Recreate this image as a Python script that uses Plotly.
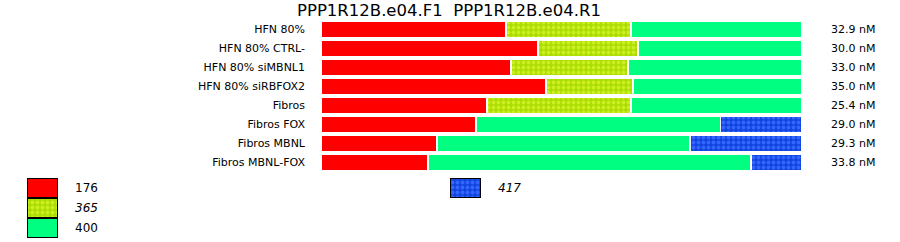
import plotly.graph_objects as go

categories = ["HFN 80%", "HFN 80% CTRL-", "HFN 80% siMBNL1", "HFN 80% siRBFOX2",
              "Fibros", "Fibros FOX", "Fibros MBNL", "Fibros MBNL-FOX"]
iso_176 = [38.5, 45.1, 39.5, 46.8, 34.5, 32.2, 24.1, 22.2]
iso_365 = [26.0, 20.8, 24.3, 18.1, 29.9, 0, 0, 0]
iso_400 = [35.5, 34.1, 36.2, 35.1, 35.6, 50.9, 52.6, 67.2]
iso_417 = [0, 0, 0, 0, 0, 16.8, 23.3, 10.6]
concentrations = ["32.9 nM", "30.0 nM", "33.0 nM", "35.0 nM",
                  "25.4 nM", "29.0 nM", "29.3 nM", "33.8 nM"]
series_names = ["176", "365", "400", "417"]
title_text = "PPP1R12B.e04.F1  PPP1R12B.e04.R1"

FONT = "DejaVu Sans, Verdana, sans-serif"
W, H = 900, 242

styles = {
    "176": dict(color="#FF0000"),
    "365": dict(color="#AADD00", pattern=dict(shape=".", fgcolor="#CCEE22", bgcolor="#AADD00",
                                              size=5, solidity=0.45, fillmode="replace")),
    "400": dict(color="#00FF80"),
    "417": dict(color="#1144DD", pattern=dict(shape=".", fgcolor="#3366FF", bgcolor="#1144DD",
                                              size=5, solidity=0.45, fillmode="replace")),
}

fig = go.Figure()
for name, vals in zip(series_names, [iso_176, iso_365, iso_400, iso_417]):
    st = styles[name]
    marker = dict(color=st["color"], line=dict(color="white", width=1.5))
    if "pattern" in st:
        marker["pattern"] = st["pattern"]
    fig.add_trace(go.Bar(y=categories, x=vals, orientation="h", name=name,
                         marker=marker, showlegend=False, hoverinfo="skip",
                         xaxis="x", yaxis="y"))

# Legend swatches on an auxiliary pixel-space axis
leg_pos = {"176": (27, 0), "365": (27, 1), "400": (27, 2), "417": (450, 0)}
for name in series_names:
    x0, row = leg_pos[name]
    st = styles[name]
    marker = dict(color=st["color"], line=dict(color="black", width=1))
    if "pattern" in st:
        marker["pattern"] = st["pattern"]
    yc = 187.5 + row * 20
    fig.add_trace(go.Bar(x=[30], base=[x0], y=[yc], width=[19], orientation="h",
                         marker=marker, showlegend=False, hoverinfo="skip",
                         xaxis="x2", yaxis="y2"))
    label = "<i>" + name + "</i>" if name in ("365", "417") else name
    fig.add_annotation(x=x0 + 46, y=yc, xref="x2", yref="y2", text=label,
                       showarrow=False, xanchor="left", yanchor="middle",
                       font=dict(family=FONT, size=12, color="black"))

for cat, c in zip(categories, concentrations):
    fig.add_annotation(x=829 / W, y=cat, xref="paper", yref="y", text=c,
                       showarrow=False, xanchor="left", yanchor="middle",
                       font=dict(family=FONT, size=11, color="black"))

fig.add_annotation(x=449 / W, y=1 - 11 / H, xref="paper", yref="paper", text=title_text,
                   showarrow=False, xanchor="center", yanchor="middle",
                   font=dict(family=FONT, size=16.5, color="black"))

fig.update_layout(
    width=W, height=H, margin=dict(l=0, r=0, t=0, b=0),
    paper_bgcolor="white", plot_bgcolor="rgba(0,0,0,0)",
    barmode="stack", bargap=2 / 19,
    xaxis=dict(domain=[321 / W, 802 / W], range=[0, 100], visible=False, fixedrange=True),
    yaxis=dict(domain=[1 - 172 / H, 1 - 20 / H], autorange="reversed",
               showgrid=False, zeroline=False, showline=False, ticks="",
               ticklabelstandoff=15,
               tickfont=dict(family=FONT, size=11, color="black")),
    xaxis2=dict(domain=[0, 1], range=[0, W], visible=False, anchor="y2", fixedrange=True),
    yaxis2=dict(domain=[0, 1], range=[H, 0], visible=False, anchor="x2", fixedrange=True),
    showlegend=False,
)

fig.write_html("out.html")
